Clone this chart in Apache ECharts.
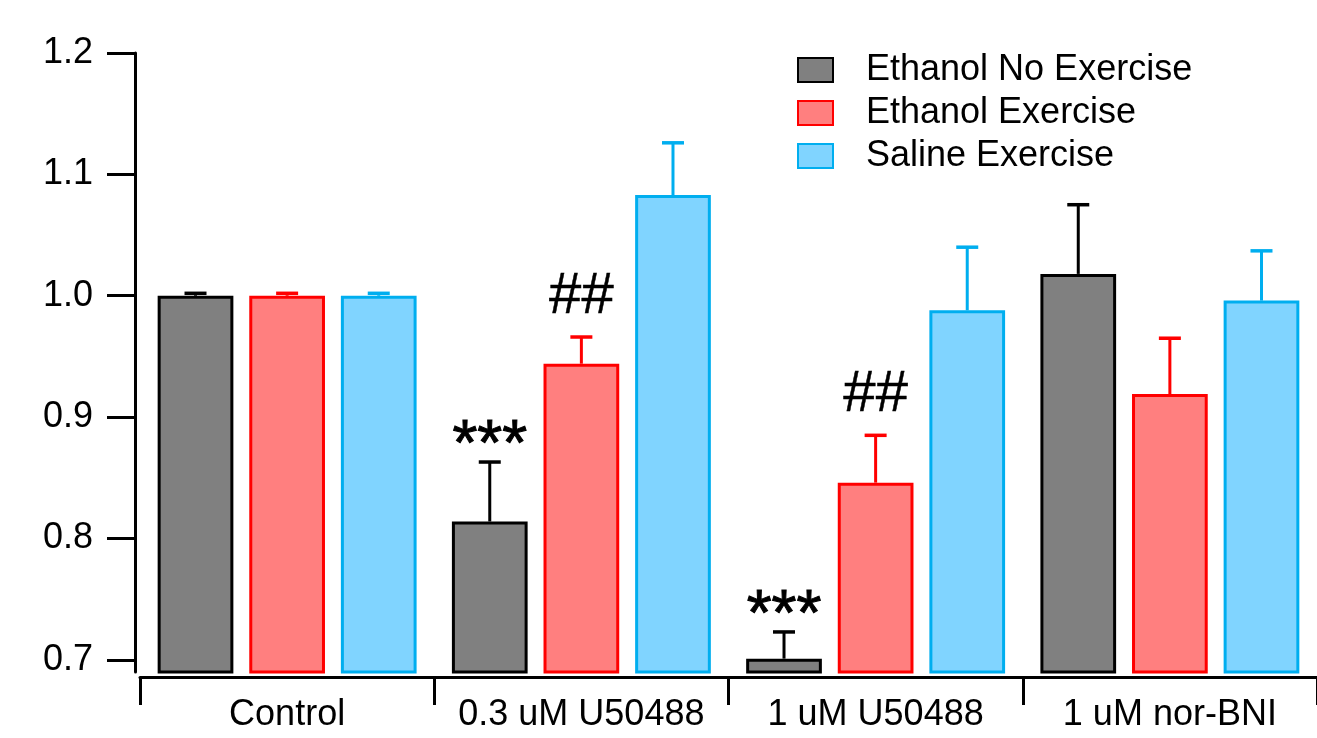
<!DOCTYPE html>
<html>
<head>
<meta charset="utf-8">
<script src="https://cdn.jsdelivr.net/npm/echarts@6/dist/echarts.min.js"></script>
<style>html,body{margin:0;padding:0;background:#fff;}#c{width:1317px;height:738px;}</style>
</head>
<body>
<div id="c"></div>
<script>
const categories = ['Control', '0.3 uM U50488', '1 uM U50488', '1 uM nor-BNI'];
const seriesNames = ['Ethanol No Exercise', 'Ethanol Exercise', 'Saline Exercise'];
const ethNoEx    = [1.000, 0.814, 0.701, 1.018];
const ethNoExErr = [0.002, 0.049, 0.022, 0.057];
const ethEx      = [1.000, 0.944, 0.846, 0.919];
const ethExErr   = [0.002, 0.022, 0.039, 0.046];
const salEx      = [1.000, 1.083, 0.988, 0.996];
const salExErr   = [0.002, 0.043, 0.052, 0.041];
const ethNoExNotes = ['', '***', '***', ''];
const ethExNotes   = ['', '##', '##', ''];
const yTicks = [0.7, 0.8, 0.9, 1.0, 1.1, 1.2];

const FONT = '"Liberation Sans", Arial, sans-serif';
const fills   = ['#808080', '#FF7F7F', '#80D4FF'];
const borders = ['#000000', '#FF0000', '#00AEEF'];
const CAT_GAP = 0.12, BAR_GAP = 0.21;

function barSeries(i, vals) {
  return {
    type: 'bar', name: seriesNames[i], data: vals,
    barCategoryGap: '12%', barGap: '21%',
    itemStyle: { color: fills[i], borderColor: borders[i], borderWidth: 3 },
    z: 2
  };
}

function errSeries(i, vals, errs, notes, noteSize, noteShift, noteStroke) {
  return {
    type: 'custom',
    data: vals.map((v, k) => [k, v, errs[k]]),
    z: 3,
    silent: true,
    renderItem(params, api) {
      const ci = api.value(0), v = api.value(1), e = api.value(2);
      const note = notes ? notes[params.dataIndex] : '';
      const catW = api.size([1, 0])[0];
      const w = (catW * (1 - CAT_GAP)) / (3 + 2 * BAR_GAP);
      const off = (i - 1) * w * (1 + BAR_GAP);
      const p0 = api.coord([ci, v]);
      const p1 = api.coord([ci, v + e]);
      const x = p0[0] + off;
      const style = { stroke: borders[i], lineWidth: 3 };
      const children = [
        { type: 'line', shape: { x1: x, y1: p0[1], x2: x, y2: p1[1] }, style },
        { type: 'line', shape: { x1: x - 11, y1: p1[1], x2: x + 11, y2: p1[1] }, style: { stroke: borders[i], lineWidth: 3.5 } }
      ];
      if (note) {
        const ts = {
          text: note, x: x, y: p1[1] - noteShift,
          align: 'center', verticalAlign: 'middle',
          fontSize: noteSize, fontFamily: FONT, fill: '#000'
        };
        if (noteStroke) { ts.stroke = '#000'; ts.lineWidth = noteStroke; }
        children.push({ type: 'text', style: ts });
      }
      return { type: 'group', children };
    }
  };
}

const chart = echarts.init(document.getElementById('c'));
chart.setOption({
  animation: false,
  backgroundColor: '#fff',
  grid: { left: 140, top: 53, width: 1180, height: 619, containLabel: false },
  legend: {
    data: seriesNames,
    orient: 'vertical',
    left: 797, top: 52, padding: 0,
    itemWidth: 35, itemHeight: 24, itemGap: 7,
    icon: 'rect',
    selectedMode: false,
    textStyle: { fontSize: 36, fontFamily: FONT, color: '#000', padding: [0, 0, 0, 28] }
  },
  xAxis: {
    type: 'category', data: categories, offset: 5,
    axisLine: { show: true, lineStyle: { color: '#000', width: 3 } },
    axisTick: { show: true, interval: 0, alignWithLabel: false, inside: false, length: 28, lineStyle: { color: '#000', width: 3 } },
    axisLabel: { interval: 0, hideOverlap: false, fontSize: 36, fontFamily: FONT, color: '#000', margin: 20 },
    splitLine: { show: false }
  },
  yAxis: {
    type: 'value', min: 0.69, max: 1.2, offset: 5,
    axisLine: { show: true, lineStyle: { color: '#000', width: 3 } },
    axisTick: { show: true, length: 28, customValues: yTicks, lineStyle: { color: '#000', width: 3 } },
    axisLabel: { customValues: yTicks, formatter: v => v.toFixed(1), fontSize: 36, fontFamily: FONT, color: '#000', margin: 42 },
    splitLine: { show: false }
  },
  series: [
    barSeries(0, ethNoEx),
    barSeries(1, ethEx),
    barSeries(2, salEx),
    errSeries(0, ethNoEx, ethNoExErr, ethNoExNotes, 64, 15, 1),
    errSeries(1, ethEx, ethExErr, ethExNotes, 58, 40, 0.5),
    errSeries(2, salEx, salExErr, null, 0, 0)
  ]
});
</script>
</body>
</html>
